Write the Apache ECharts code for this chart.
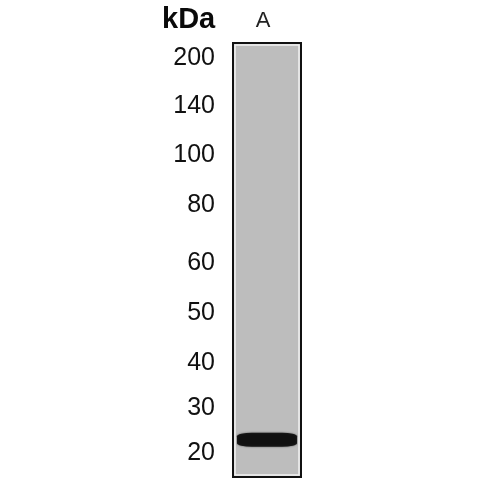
<!DOCTYPE html>
<html>
<head>
<meta charset="utf-8">
<script src="https://cdn.jsdelivr.net/npm/echarts@6/dist/echarts.min.js"></script>
<style>
  html, body { margin: 0; padding: 0; background: #fff; }
  #main { width: 500px; height: 500px; }
</style>
</head>
<body>
<div id="main"></div>
<script>
// lanes on the blot
var lanes = ['A'];
// marker ladder: size (kDa) and migration (% of lane length from the top)
var markerKda = [200, 140, 100, 80, 60, 50, 40, 30, 20];
var markerMigration = [3.5, 14.5, 25.8, 37.3, 50.7, 62.2, 73.7, 84.1, 94.5];
// detected band in lane A
var bandMigration = [91.4];

var labelFor = {};
markerMigration.forEach(function (m, i) { labelFor[m] = String(markerKda[i]); });

var myChart = echarts.init(document.getElementById('main'));

var gridL = 233, gridT = 43, gridW = 68, gridH = 434;

option = {
    backgroundColor: '#ffffff',
    animation: false,
    title: {
        text: 'kDa',
        left: 157,
        top: 0,
        textStyle: {
            fontFamily: 'Liberation Sans, Arial, sans-serif',
            fontWeight: 900,
            fontSize: 29,
            color: '#0a0a0a'
        }
    },
    grid: {
        left: gridL,
        top: gridT,
        width: gridW,
        height: gridH,
        show: true,
        backgroundColor: '#bdbdbd',
        borderColor: '#111',
        borderWidth: 2
    },
    graphic: [{
        type: 'rect',
        shape: { x: gridL + 2, y: gridT + 2, width: gridW - 4, height: gridH - 4 },
        style: { fill: 'none', stroke: '#f2f2f2', lineWidth: 1.5 },
        silent: true,
        z: 10
    }],
    xAxis: {
        type: 'category',
        data: lanes,
        position: 'top',
        axisLine: { show: false },
        axisTick: { show: false },
        axisLabel: {
            margin: 11,
            fontSize: 22,
            padding: [0, 8, 0, 0],
            fontFamily: 'Liberation Sans, Arial, sans-serif',
            color: '#222'
        }
    },
    yAxis: {
        type: 'value',
        inverse: true,
        min: 0,
        max: 100,
        splitLine: { show: false },
        axisLine: { show: false },
        axisTick: { show: false },
        axisLabel: {
            customValues: markerMigration,
            margin: 18,
            fontSize: 25,
            fontFamily: 'Liberation Sans, Arial, sans-serif',
            color: '#111',
            formatter: function (v) { return labelFor[v] || ''; }
        }
    },
    series: [{
        type: 'scatter',
        data: bandMigration.map(function (m, i) { return [lanes[i], m]; }),
        symbol: 'roundRect',
        symbolSize: [60, 14],
        itemStyle: {
            color: '#000000',
            shadowBlur: 2,
            shadowColor: 'rgba(0,0,0,0.7)'
        },
        z: 5
    }]
};

myChart.setOption(option);
</script>
</body>
</html>
